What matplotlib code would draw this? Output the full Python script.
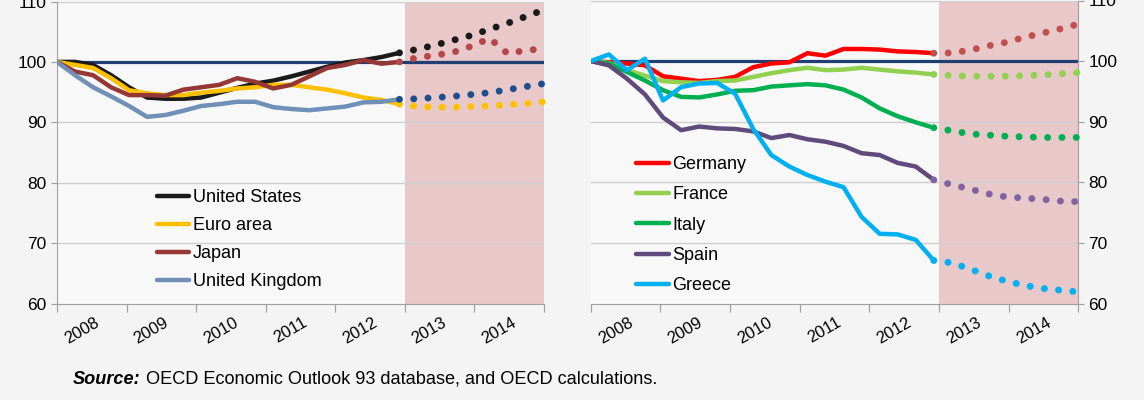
import matplotlib
matplotlib.use("Agg")
from matplotlib import pyplot as plt
import numpy as np

plt.rcParams['font.family'] = ['Liberation Sans', 'DejaVu Sans']

# quarterly index, 2008Q1 .. 2014Q4 (actual to 2012Q4, projection after)
years = ["2008", "2009", "2010", "2011", "2012", "2013", "2014"]
n_quarters = 28
last_actual = 19

# left panel
us_hist = [100, 100, 99.5, 97.8, 95.8, 94.1, 93.9, 93.9, 94.1, 94.9,
           95.7, 96.4, 96.9, 97.6, 98.4, 99.2, 99.9, 100.3, 100.8, 101.5]
us_proj = [101.5, 102.1, 102.8, 103.6, 104.4, 105.4, 106.4, 107.5, 108.6]
euro_hist = [100, 99.5, 99.0, 97.3, 95.3, 94.8, 94.5, 94.5, 94.9, 95.2,
             95.6, 95.8, 96.2, 96.2, 95.8, 95.4, 94.8, 94.1, 93.7, 93.0]
euro_proj = [93.0, 92.6, 92.5, 92.5, 92.6, 92.7, 92.9, 93.1, 93.4]
japan_hist = [100, 98.4, 97.8, 95.8, 94.5, 94.5, 94.4, 95.4, 95.8, 96.2,
              97.3, 96.7, 95.6, 96.2, 97.6, 99.0, 99.5, 100.3, 99.7, 100.0]
japan_proj = [100.0, 100.7, 101.1, 101.6, 102.6, 103.9, 101.4, 101.9, 102.2]
uk_hist = [100, 97.8, 95.8, 94.3, 92.7, 90.9, 91.2, 91.9, 92.7, 93.0,
           93.4, 93.4, 92.5, 92.2, 92.0, 92.3, 92.6, 93.3, 93.4, 93.8]
uk_proj = [93.8, 93.9, 94.1, 94.3, 94.6, 94.9, 95.4, 95.9, 96.4]

# right panel
germany_hist = [100, 99.8, 99.6, 99.3, 97.5, 97.1, 96.7, 96.9, 97.4, 99.0,
                99.6, 99.8, 101.3, 100.9, 102.0, 102.0, 101.9, 101.6, 101.5, 101.3]
germany_proj = [101.3, 101.35, 101.8, 102.5, 103.1, 103.9, 104.6, 105.3, 106.1]
france_hist = [100, 99.7, 98.5, 97.6, 96.7, 96.5, 96.4, 96.7, 96.8, 97.4,
               98.0, 98.5, 98.9, 98.5, 98.6, 98.9, 98.6, 98.3, 98.1, 97.8]
france_proj = [97.8, 97.6, 97.5, 97.5, 97.5, 97.6, 97.7, 97.9, 98.1]
italy_hist = [100, 99.6, 98.2, 96.8, 95.2, 94.1, 94.0, 94.5, 95.1, 95.2,
              95.8, 96.0, 96.2, 96.0, 95.3, 94.0, 92.2, 90.9, 89.9, 89.0]
italy_proj = [89.0, 88.5, 88.0, 87.8, 87.6, 87.5, 87.4, 87.4, 87.4]
spain_hist = [100, 99.3, 97.1, 94.5, 90.7, 88.6, 89.2, 88.9, 88.8, 88.4,
              87.3, 87.8, 87.1, 86.7, 86.0, 84.8, 84.5, 83.2, 82.6, 80.4]
spain_proj = [80.4, 79.6, 78.9, 78.1, 77.6, 77.4, 77.2, 76.9, 76.8]
greece_hist = [100, 101.1, 98.5, 100.4, 93.5, 95.7, 96.3, 96.4, 94.6, 88.8,
               84.5, 82.6, 81.2, 80.1, 79.2, 74.3, 71.5, 71.4, 70.5, 67.1]
greece_proj = [67.1, 66.7, 65.7, 64.6, 63.7, 63.0, 62.5, 62.2, 61.9]

left_series = [
    ("United States", us_hist, us_proj, "#1A1A1A", "#1A1A1A"),
    ("Euro area", euro_hist, euro_proj, "#FFC000", "#FFC000"),
    ("Japan", japan_hist, japan_proj, "#953735", "#B5474A"),
    ("United Kingdom", uk_hist, uk_proj, "#7090B8", "#1F4E8C"),
]
right_series = [
    ("Germany", germany_hist, germany_proj, "#FF0000", "#C0504D"),
    ("France", france_hist, france_proj, "#92D050", "#92D050"),
    ("Italy", italy_hist, italy_proj, "#00B050", "#00B050"),
    ("Spain", spain_hist, spain_proj, "#604A7B", "#8064A2"),
    ("Greece", greece_hist, greece_proj, "#00B0F0", "#00B0F0"),
]

x_hist = np.arange(last_actual + 1)
x_proj = np.arange(last_actual, n_quarters)
span = n_quarters - 1
year_edges = np.linspace(0, span, len(years) + 1)
# labels sit a little left of the middle of each year, like the original
label_pos = (year_edges[:-1] + year_edges[1:]) / 2 - 0.55
shade_start = year_edges[5]


def draw_panel(ax, series, right_axis=False):
    ax.set_facecolor("#F8F8F8")
    ax.axvspan(shade_start, span, color="#E8C8C8", zorder=0.5, lw=0)
    for y in [70, 80, 90, 110]:
        ax.axhline(y, color="#CFCFCF", lw=1, zorder=1)
    ax.axhline(100, color="#1F3F73", lw=2.3, zorder=2)
    handles = []
    for name, hist, proj, col, pcol in series:
        h, = ax.plot(x_hist, hist, color=col, lw=3.2, solid_capstyle="round",
                     solid_joinstyle="round", zorder=3, label=name)
        ax.plot(x_proj, proj, color=pcol, lw=5.0, linestyle=(0, (0.01, 2.05)),
                dash_capstyle="round", zorder=3, clip_on=False)
        handles.append(h)
    ax.set_xlim(0, span)
    ax.set_ylim(60, 110)
    ax.set_yticks(range(60, 111, 10))
    ax.set_xticks(year_edges)
    ax.set_xticklabels([])
    ax.set_xticks(label_pos, minor=True)
    ax.set_xticklabels(years, minor=True, rotation=30, fontsize=12)
    ax.tick_params(axis="x", which="major", length=6, color="#A0A0A0", direction="out")
    ax.tick_params(axis="x", which="minor", length=0, pad=8)
    ax.tick_params(axis="y", labelsize=12.5, length=4, color="#A0A0A0")
    ax.spines["top"].set_visible(False)
    ax.spines["bottom"].set_color("#A0A0A0")
    if right_axis:
        ax.yaxis.tick_right()
        ax.spines["left"].set_visible(False)
        ax.spines["right"].set_color("#A0A0A0")
    else:
        ax.spines["right"].set_visible(False)
        ax.spines["left"].set_color("#A0A0A0")
    return handles


fig = plt.figure(figsize=(11.44, 4.0), dpi=100)
fig.patch.set_facecolor("#F4F4F4")

ax1 = fig.add_axes([57 / 1144, 1 - 303.5 / 400, 486.6 / 1144, 302 / 400])
ax2 = fig.add_axes([590.8 / 1144, 1 - 303.5 / 400, 487.4 / 1144, 303 / 400])

h1 = draw_panel(ax1, left_series)
h2 = draw_panel(ax2, right_series, right_axis=True)

ax1.legend(handles=h1, loc="upper left", bbox_to_anchor=(0.205, 0.378),
           frameon=False, fontsize=13, handlelength=1.8, handletextpad=0.2,
           labelspacing=0.6, borderpad=0, borderaxespad=0)
ax2.legend(handles=h2, loc="upper left", bbox_to_anchor=(0.093, 0.487),
           frameon=False, fontsize=13, handlelength=1.8, handletextpad=0.2,
           labelspacing=0.74, borderpad=0, borderaxespad=0)

t1 = fig.text(73 / 1144, 1 - 384 / 400, "Source:", fontsize=13.1,
              fontweight="bold", fontstyle="italic")
ax1.annotate(" OECD Economic Outlook 93 database, and OECD calculations.",
             xy=(1, 0), xycoords=t1, va="bottom", fontsize=13.1,
             annotation_clip=False)

fig.savefig("out.png", dpi=100, facecolor=fig.get_facecolor())
